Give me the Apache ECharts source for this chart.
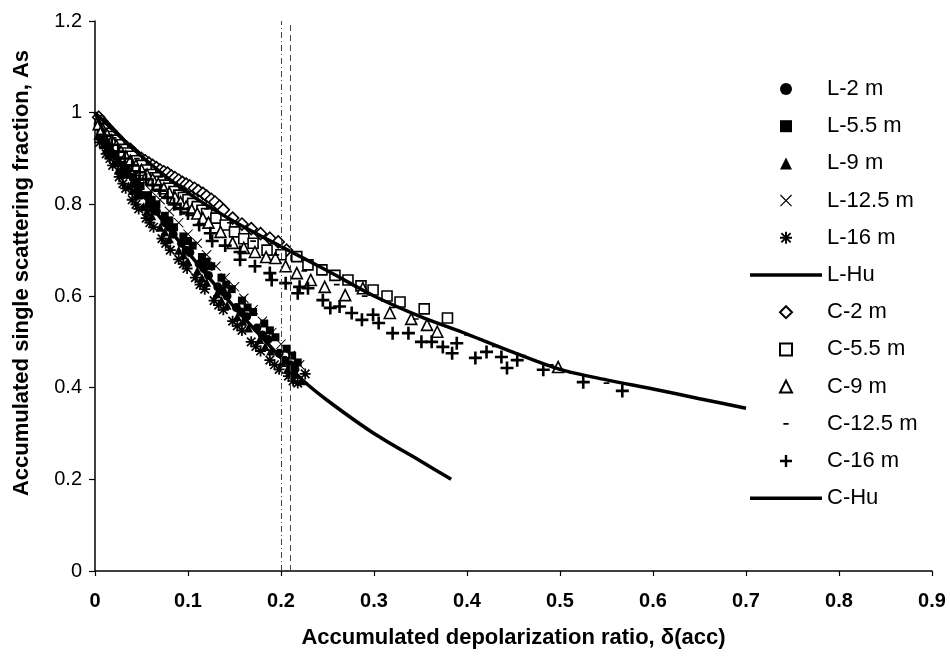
<!DOCTYPE html>
<html>
<head>
<meta charset="utf-8">
<script src="https://cdn.jsdelivr.net/npm/echarts@6/dist/echarts.min.js"></script>
<style>
html,body{margin:0;padding:0;background:#fff;}
#chart{width:950px;height:657px;}
</style>
</head>
<body>
<div id="chart"></div>
<script>
// ---------- data ----------
const xTickLabels = ['0','0.1','0.2','0.3','0.4','0.5','0.6','0.7','0.8','0.9'];
const yTickLabels = ['0','0.2','0.4','0.6','0.8','1','1.2'];
const legendNames = ['L-2 m','L-5.5 m','L-9 m','L-12.5 m','L-16 m','L-Hu','C-2 m','C-5.5 m','C-9 m','C-12.5 m','C-16 m','C-Hu'];
const guideLines = [0.196, 0.212];

const L2 = [[0.004,0.975],[0.007,0.945],[0.010,0.955],[0.016,0.935],[0.019,0.915],[0.022,0.905],[0.028,0.89],[0.031,0.875],[0.035,0.865],[0.042,0.845],[0.046,0.83],[0.050,0.82],[0.058,0.80],[0.062,0.79],[0.066,0.785],[0.075,0.76],[0.080,0.75],[0.084,0.735],[0.093,0.715],[0.098,0.70],[0.102,0.695],[0.112,0.67],[0.117,0.66],[0.122,0.645],[0.132,0.62],[0.137,0.61],[0.142,0.60],[0.152,0.575],[0.157,0.565],[0.163,0.555],[0.174,0.53],[0.180,0.515],[0.186,0.505],[0.198,0.475],[0.204,0.46],[0.210,0.45],[0.215,0.44]];
const L55 = [[0.003,0.97],[0.006,0.96],[0.013,0.94],[0.017,0.925],[0.020,0.92],[0.027,0.9],[0.031,0.885],[0.034,0.88],[0.041,0.86],[0.045,0.85],[0.049,0.84],[0.057,0.82],[0.061,0.81],[0.066,0.80],[0.075,0.775],[0.080,0.765],[0.085,0.75],[0.095,0.73],[0.100,0.72],[0.105,0.71],[0.115,0.685],[0.120,0.675],[0.125,0.665],[0.136,0.64],[0.141,0.625],[0.147,0.615],[0.158,0.59],[0.164,0.575],[0.170,0.565],[0.182,0.54],[0.188,0.525],[0.194,0.51],[0.206,0.485],[0.212,0.47],[0.218,0.455]];
const L9 = [[0.003,0.95],[0.009,0.93],[0.012,0.92],[0.015,0.91],[0.021,0.89],[0.025,0.875],[0.028,0.865],[0.036,0.84],[0.040,0.83],[0.044,0.82],[0.052,0.795],[0.056,0.785],[0.061,0.775],[0.070,0.75],[0.075,0.74],[0.080,0.725],[0.090,0.70],[0.095,0.69],[0.100,0.675],[0.110,0.655],[0.115,0.64],[0.120,0.63],[0.131,0.605],[0.136,0.59],[0.142,0.58],[0.153,0.555],[0.159,0.545],[0.165,0.53],[0.177,0.505],[0.183,0.49],[0.189,0.48],[0.201,0.455],[0.207,0.44],[0.213,0.43],[0.222,0.415]];
const L125 = [[0.008,0.965],[0.018,0.935],[0.030,0.905],[0.040,0.875],[0.050,0.855],[0.060,0.83],[0.070,0.81],[0.080,0.785],[0.090,0.76],[0.100,0.735],[0.110,0.715],[0.120,0.69],[0.130,0.665],[0.140,0.64],[0.150,0.62],[0.160,0.595],[0.170,0.57],[0.180,0.545],[0.190,0.52],[0.200,0.495],[0.210,0.47],[0.220,0.45]];
const L16 = [[0.005,0.935],[0.012,0.91],[0.016,0.90],[0.019,0.885],[0.026,0.86],[0.030,0.845],[0.033,0.835],[0.040,0.81],[0.044,0.80],[0.047,0.79],[0.055,0.77],[0.059,0.76],[0.063,0.75],[0.072,0.725],[0.076,0.715],[0.081,0.70],[0.090,0.68],[0.095,0.67],[0.099,0.66],[0.108,0.64],[0.113,0.625],[0.118,0.615],[0.128,0.59],[0.133,0.58],[0.138,0.57],[0.148,0.545],[0.153,0.535],[0.158,0.525],[0.168,0.50],[0.173,0.49],[0.178,0.48],[0.188,0.46],[0.193,0.45],[0.198,0.44],[0.208,0.425],[0.213,0.415],[0.218,0.41],[0.226,0.43]];
const LHu = [[0,1.0],[0.02,0.915],[0.05,0.825],[0.1,0.695],[0.15,0.575],[0.2,0.465],[0.224,0.415],[0.25,0.372],[0.3,0.30],[0.35,0.24],[0.383,0.20]];

const C2 = [[0.004,0.99],[0.007,0.982],[0.010,0.975],[0.013,0.968],[0.017,0.96],[0.020,0.952],[0.024,0.945],[0.027,0.938],[0.031,0.93],[0.034,0.925],[0.038,0.92],[0.042,0.912],[0.046,0.905],[0.050,0.90],[0.054,0.895],[0.058,0.89],[0.062,0.885],[0.066,0.88],[0.070,0.875],[0.074,0.871],[0.078,0.868],[0.082,0.862],[0.086,0.858],[0.090,0.853],[0.094,0.848],[0.098,0.844],[0.102,0.84],[0.107,0.835],[0.111,0.83],[0.116,0.824],[0.120,0.818],[0.125,0.811],[0.129,0.805],[0.134,0.796],[0.138,0.788],[0.148,0.77],[0.158,0.757],[0.168,0.747],[0.178,0.736],[0.188,0.726],[0.197,0.718],[0.206,0.70]];
const C55 = [[0.006,0.975],[0.010,0.965],[0.014,0.955],[0.018,0.948],[0.022,0.94],[0.026,0.93],[0.030,0.92],[0.035,0.912],[0.040,0.905],[0.045,0.895],[0.050,0.885],[0.055,0.875],[0.060,0.865],[0.065,0.858],[0.070,0.85],[0.075,0.842],[0.080,0.835],[0.085,0.828],[0.090,0.82],[0.095,0.815],[0.100,0.81],[0.105,0.802],[0.110,0.795],[0.115,0.787],[0.120,0.78],[0.130,0.77],[0.140,0.755],[0.150,0.74],[0.160,0.725],[0.170,0.715],[0.185,0.70],[0.200,0.69],[0.217,0.686],[0.229,0.668],[0.244,0.657],[0.258,0.645],[0.272,0.635],[0.286,0.622],[0.299,0.613],[0.314,0.60],[0.328,0.587],[0.354,0.572],[0.379,0.552]];
const C9 = [[0.004,0.975],[0.008,0.965],[0.013,0.952],[0.018,0.94],[0.023,0.928],[0.028,0.915],[0.033,0.905],[0.038,0.895],[0.044,0.885],[0.050,0.875],[0.056,0.865],[0.062,0.855],[0.068,0.845],[0.074,0.835],[0.080,0.825],[0.086,0.815],[0.092,0.805],[0.098,0.795],[0.104,0.788],[0.110,0.78],[0.116,0.77],[0.122,0.76],[0.135,0.74],[0.148,0.716],[0.160,0.705],[0.172,0.696],[0.184,0.685],[0.194,0.683],[0.205,0.665],[0.217,0.65],[0.232,0.635],[0.247,0.62],[0.269,0.602],[0.288,0.617],[0.317,0.563],[0.340,0.55],[0.357,0.537],[0.368,0.522],[0.498,0.445]];
const C125 = [[0.02,0.945],[0.045,0.90],[0.07,0.86],[0.095,0.83],[0.12,0.79],[0.145,0.76],[0.17,0.72],[0.195,0.69],[0.225,0.655],[0.26,0.625],[0.29,0.60],[0.32,0.575],[0.345,0.55],[0.37,0.54],[0.40,0.515],[0.43,0.49],[0.46,0.47],[0.49,0.45],[0.513,0.432],[0.55,0.41],[0.58,0.405]];
const C16 = [[0.01,0.95],[0.018,0.93],[0.025,0.915],[0.032,0.90],[0.04,0.885],[0.048,0.87],[0.055,0.855],[0.062,0.842],[0.07,0.83],[0.078,0.815],[0.085,0.80],[0.092,0.79],[0.10,0.78],[0.112,0.755],[0.124,0.737],[0.126,0.72],[0.14,0.71],[0.156,0.696],[0.156,0.679],[0.172,0.665],[0.188,0.65],[0.19,0.635],[0.205,0.628],[0.218,0.606],[0.22,0.62],[0.229,0.617],[0.245,0.591],[0.253,0.574],[0.263,0.577],[0.276,0.563],[0.287,0.548],[0.299,0.559],[0.305,0.541],[0.32,0.519],[0.337,0.519],[0.351,0.50],[0.362,0.50],[0.374,0.489],[0.384,0.475],[0.389,0.497],[0.409,0.465],[0.421,0.478],[0.437,0.467],[0.443,0.443],[0.454,0.46],[0.482,0.439],[0.525,0.412],[0.567,0.393]];
const CHu = [[0,1.0],[0.05,0.905],[0.1,0.825],[0.15,0.762],[0.2,0.708],[0.25,0.655],[0.3,0.60],[0.35,0.555],[0.4,0.517],[0.45,0.477],[0.5,0.44],[0.55,0.417],[0.6,0.397],[0.65,0.376],[0.7,0.355]];

// ---------- symbols ----------
const SYM_SQUARE = 'path://M0,0h10v10h-10z';
const SYM_TRI = 'path://M5,0L10,10H0Z';
const SYM_DIAMOND = 'path://M5,0L10,5L5,10L0,5Z';
const SYM_PLUS = 'path://M4,0h2v4h4v2h-4v4h-2v-4h-4v-2h4z';
const SYM_X = 'path://M0,0.7L0.7,0L10,9.3L9.3,10Z M9.3,0L10,0.7L0.7,10L0,9.3Z';
const SYM_AST = 'path://M4.2,0h1.6v4.2h4.2v1.6h-4.2v4.2h-1.6v-4.2h-4.2v-1.6h4.2z M0.6,1.7L1.7,0.6L9.4,8.3L8.3,9.4Z M8.3,0.6L9.4,1.7L1.7,9.4L0.6,8.3Z';
const SYM_DASH = 'path://M0,0h0.01v0.01h-0.01z M9.99,9.99h0.01v0.01h-0.01z M2.8,4.4h4.4v1.3h-4.4z';
const LEGEND_LINE = 'path://M0,0h72v3.5h-72z';

const BLACK = '#000';
function scatter(name, data, symbol, size, filled) {
  return {
    name, type: 'scatter', data, symbol, symbolSize: size, symbolKeepAspect: true, z: 2,
    itemStyle: filled ? { color: BLACK, opacity: 1 } :
      { color: '#fff', borderColor: BLACK, borderWidth: 1.6, opacity: 1 }
  };
}
function hu(name, data, extra) {
  return Object.assign({
    name, type: 'line', data, smooth: 0.3, symbol: 'none', showSymbol: false, z: 4,
    lineStyle: { color: BLACK, width: 3.5 }, itemStyle: { color: BLACK }
  }, extra || {});
}

const series = [
  scatter('L-2 m', L2, 'circle', 9, true),
  scatter('L-5.5 m', L55, SYM_SQUARE, 8, true),
  scatter('L-9 m', L9, SYM_TRI, 9, true),
  scatter('L-12.5 m', L125, SYM_X, 10, true),
  scatter('L-16 m', L16, SYM_AST, 11, true),
  hu('L-Hu', LHu),
  scatter('C-2 m', C2, SYM_DIAMOND, 12, false),
  scatter('C-5.5 m', C55, SYM_SQUARE, 10, false),
  scatter('C-9 m', C9, SYM_TRI, 11, false),
  scatter('C-12.5 m', C125, SYM_DASH, 13, true),
  scatter('C-16 m', C16, SYM_PLUS, 13, true),
  hu('C-Hu', CHu, {
    markLine: {
      silent: true, symbol: 'none', label: { show: false },
      data: [
        { xAxis: guideLines[0], lineStyle: { color: '#444', width: 1, type: [6, 3, 1, 3] } },
        { xAxis: guideLines[1], lineStyle: { color: '#444', width: 1, type: [6, 4] } }
      ]
    }
  })
];

const legendData = legendNames.map(n => n.endsWith('Hu') ? { name: n, icon: LEGEND_LINE } : { name: n });

const FONT = '"Liberation Sans", Arial, sans-serif';
const chart = echarts.init(document.getElementById('chart'), null, { renderer: 'canvas' });
chart.setOption({
  backgroundColor: '#fff',
  animation: false,
  grid: { left: 95, right: 18, top: 21, bottom: 86, containLabel: false, outerBoundsMode: 'none' },
  legend: {
    data: legendData,
    orient: 'vertical',
    left: 745, top: 73,
    itemWidth: 72, itemHeight: 12, itemGap: 15.2,
    symbolKeepAspect: true,
    textStyle: { fontFamily: FONT, fontSize: 22, color: BLACK, lineHeight: 18 }
  },
  xAxis: {
    type: 'value', min: 0, max: 0.9, interval: 0.1,
    name: 'Accumulated depolarization ratio, δ(acc)',
    nameLocation: 'middle', nameGap: 56,
    nameTextStyle: { fontFamily: FONT, fontSize: 22, fontWeight: 'bold', color: BLACK },
    axisLine: { show: true, lineStyle: { color: BLACK, width: 1.5 } },
    axisTick: { show: true, inside: false, length: 5, lineStyle: { color: BLACK, width: 1.2 } },
    axisLabel: {
      margin: 20, fontFamily: FONT, fontSize: 20, fontWeight: 'bold', color: BLACK,
      formatter: v => xTickLabels[Math.round(v * 10)]
    },
    splitLine: { show: false }
  },
  yAxis: {
    type: 'value', min: 0, max: 1.2, interval: 0.2,
    name: 'Accumulated single scattering fraction, As',
    nameLocation: 'middle', nameGap: 62,
    nameTextStyle: { fontFamily: FONT, fontSize: 22, fontWeight: 'bold', color: BLACK, padding: [0, 0, 0, 46] },
    axisLine: { show: true, lineStyle: { color: BLACK, width: 1.5 } },
    axisTick: { show: true, inside: false, length: 6, lineStyle: { color: BLACK, width: 1.2 } },
    axisLabel: {
      margin: 13, fontFamily: FONT, fontSize: 20, color: BLACK,
      formatter: v => yTickLabels[Math.round(v * 5)]
    },
    splitLine: { show: false }
  },
  series
});
</script>
</body>
</html>
